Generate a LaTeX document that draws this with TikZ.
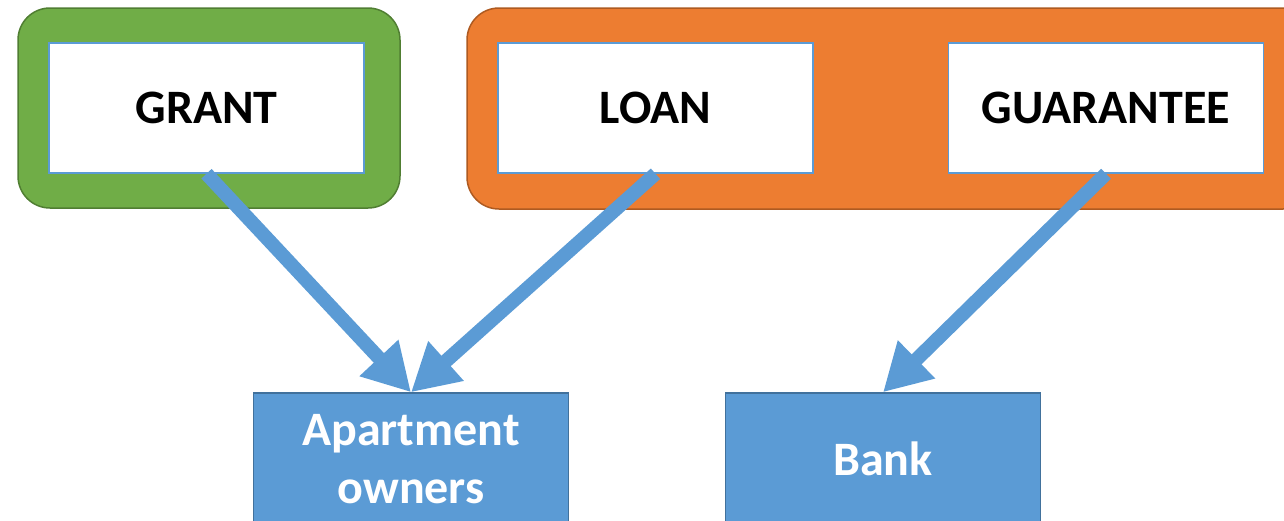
\documentclass[tikz,border=0pt]{standalone}
\usepackage{fontspec}
\usepackage{xcolor}
\setmainfont{Carlito}
\usetikzlibrary{arrows.meta}
\definecolor{grantgreen}{HTML}{70AD47}
\definecolor{grantedge}{HTML}{507E32}
\definecolor{loanorange}{HTML}{ED7D31}
\definecolor{loanedge}{HTML}{AE5A21}
\definecolor{flowblue}{HTML}{5B9BD5}
\definecolor{flowedge}{HTML}{41719C}

\begin{document}
\begin{tikzpicture}[x=1pt,y=-1pt]
\tikzset{every node/.style={font=\bfseries\fontsize{48}{58}\selectfont}}
\tikzset{group/.style={line width=1.5pt,rounded corners=32pt}}
\tikzset{topbox/.style={draw=flowblue,fill=white,line width=1.5pt,minimum width=315pt,minimum height=130pt}}
\tikzset{lowbox/.style={draw=flowedge,fill=flowblue,text=white,line width=1.5pt,align=center,minimum width=315pt,minimum height=132pt}}
\tikzset{flow/.style={draw=flowblue,line width=14pt,-{Triangle[length=47pt,width=50pt]}}}

\useasboundingbox (0,0) rectangle (1284,520);
\clip (0,0) rectangle (1284,520);

\draw[group,draw=grantedge,fill=grantgreen] (18,8) rectangle (400,208);
\draw[group,draw=loanedge,fill=loanorange] (467,8) rectangle (1315,209);

\node[topbox] (grant) at (206.5,108) {GRANT};
\node[topbox] (loan) at (655.5,108) {LOAN};
\node[topbox] (guarantee) at (1106,108) {GUARANTEE};

\node[lowbox] (owners) at (411,459) {Apartment\\owners};
\node[lowbox] (bank) at (883,459) {Bank};

\draw[flow] (grant.south) -- (owners.north);
\draw[flow] (loan.south) -- (owners.north);
\draw[flow] (guarantee.south) -- (bank.north);

\end{tikzpicture}
\end{document}
